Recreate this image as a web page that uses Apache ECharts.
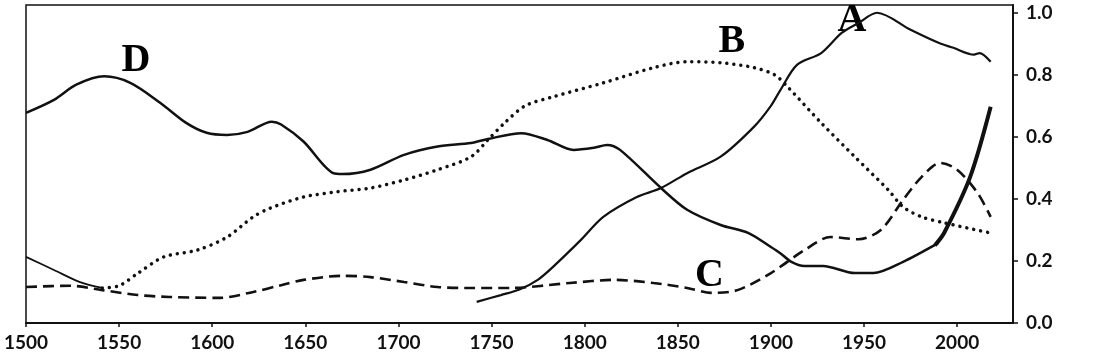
<!DOCTYPE html>
<html>
<head>
<meta charset="utf-8">
<script src="https://cdn.jsdelivr.net/npm/echarts@6/dist/echarts.min.js"></script>
<style>
html,body{margin:0;padding:0;background:#fff;}
#chart{width:1114px;height:358px;}
</style>
</head>
<body>
<div id="chart"></div>
<script>
// ---- data ----
const xTicks = [1500, 1550, 1600, 1650, 1700, 1750, 1800, 1850, 1900, 1950, 2000];
const yTicks = [0, 0.2, 0.4, 0.6, 0.8, 1.0];

const aYears = [1742, 1755, 1765, 1775, 1783, 1798, 1810, 1828, 1841, 1855, 1873, 1891, 1900, 1905, 1914, 1927, 1938, 1947, 1957, 1975, 1990, 1998, 2009, 2012, 2018];
const aVals  = [0.068, 0.09, 0.108, 0.14, 0.181, 0.268, 0.342, 0.406, 0.435, 0.483, 0.536, 0.633, 0.70, 0.75, 0.832, 0.87, 0.935, 0.967, 1.0, 0.945, 0.903, 0.887, 0.865, 0.87, 0.842];

const bEarlyYears = [1500, 1515, 1529, 1541];
const bEarlyVals  = [0.213, 0.171, 0.132, 0.113];

const bYears = [1541, 1550, 1560, 1574, 1592, 1608, 1622, 1631, 1649, 1667, 1685, 1703, 1721, 1739, 1748, 1757, 1768, 1783, 1810, 1837, 1855, 1873, 1891, 1902, 1909, 1927, 1945, 1963, 1971, 1981, 1993, 2018];
const bVals  = [0.113, 0.12, 0.16, 0.213, 0.235, 0.277, 0.342, 0.37, 0.406, 0.423, 0.435, 0.461, 0.494, 0.536, 0.59, 0.645, 0.70, 0.729, 0.774, 0.823, 0.842, 0.839, 0.823, 0.80, 0.761, 0.645, 0.536, 0.429, 0.374, 0.342, 0.323, 0.29];

const cYears = [1500, 1524, 1541, 1560, 1577, 1604, 1622, 1637, 1649, 1670, 1685, 1703, 1721, 1739, 1760, 1792, 1816, 1837, 1855, 1868, 1882, 1900, 1918, 1932, 1947, 1959, 1971, 1981, 1991, 2000, 2011, 2018];
const cVals  = [0.116, 0.12, 0.106, 0.09, 0.084, 0.081, 0.1, 0.122, 0.139, 0.152, 0.148, 0.132, 0.116, 0.113, 0.113, 0.129, 0.139, 0.129, 0.113, 0.097, 0.106, 0.161, 0.235, 0.277, 0.27, 0.3, 0.397, 0.471, 0.516, 0.494, 0.419, 0.342];

const dYears = [1500, 1515, 1527, 1542, 1556, 1572, 1586, 1597, 1608, 1619, 1632, 1637, 1649, 1665, 1670, 1685, 1703, 1721, 1739, 1748, 1766, 1780, 1794, 1805, 1812, 1819, 1841, 1855, 1873, 1888, 1900, 1905, 1911, 1918, 1928, 1945, 1955, 1971, 1990];
const dVals  = [0.677, 0.719, 0.768, 0.795, 0.774, 0.71, 0.645, 0.613, 0.606, 0.616, 0.649, 0.64, 0.585, 0.483, 0.48, 0.494, 0.542, 0.569, 0.58, 0.593, 0.612, 0.59, 0.558, 0.565, 0.574, 0.558, 0.435, 0.365, 0.316, 0.29, 0.245, 0.225, 0.197, 0.184, 0.184, 0.161, 0.161, 0.197, 0.258];

const dEndYears = [1988, 1993, 2007, 2018];
const dEndVals  = [0.25, 0.29, 0.471, 0.697];

const labelNames = ['D', 'B', 'A', 'C'];
const labelYears = [1559, 1879, 1943.5, 1867];
const labelVals  = [0.845, 0.906, 0.974, 0.152];

// ---- build ----
const pairs = (xs, ys) => xs.map((x, i) => [x, ys[i]]);
const INK = '#111';
const font = 'Lato, "DejaVu Sans", sans-serif';

const chart = echarts.init(document.getElementById('chart'));
chart.setOption({
  animation: false,
  backgroundColor: '#fff',
  grid: { left: 26, right: 101, top: 5, bottom: 35, show: true, borderColor: INK, borderWidth: 1.5, backgroundColor: 'transparent' },
  xAxis: {
    type: 'value', min: 1500, max: 2030, interval: 50,
    splitLine: { show: false },
    axisLine: { show: true, lineStyle: { color: INK, width: 2 } },
    axisTick: { show: true, inside: false, length: 4, lineStyle: { color: INK, width: 1.5 }, customValues: xTicks },
    axisLabel: { color: INK, fontFamily: font, fontSize: 19, fontWeight: 'bold', margin: 10, customValues: xTicks, formatter: v => String(v) }
  },
  yAxis: {
    type: 'value', position: 'right', min: 0, max: 1.025,
    splitLine: { show: false },
    axisLine: { show: true, lineStyle: { color: INK, width: 2 } },
    axisTick: { show: true, inside: false, length: 5, lineStyle: { color: INK, width: 1.5 }, customValues: yTicks },
    axisLabel: { color: INK, fontFamily: font, fontSize: 19, fontWeight: 'bold', margin: 13, customValues: yTicks, formatter: v => v.toFixed(1) }
  },
  series: [
    { name: 'A', type: 'line', data: pairs(aYears, aVals), smooth: 0.3, symbol: 'none', lineStyle: { color: INK, width: 2.2 } },
    { name: 'B-early', type: 'line', data: pairs(bEarlyYears, bEarlyVals), smooth: 0.3, symbol: 'none', lineStyle: { color: INK, width: 1.8 } },
    { name: 'B', type: 'line', data: pairs(bYears, bVals), smooth: 0.3, symbol: 'none', lineStyle: { color: INK, width: 3.5, type: [0.01, 7], cap: 'round' } },
    { name: 'C', type: 'line', data: pairs(cYears, cVals), smooth: 0.3, symbol: 'none', lineStyle: { color: INK, width: 2.6, type: [11, 6] } },
    { name: 'D', type: 'line', data: pairs(dYears, dVals), smooth: 0.3, symbol: 'none', lineStyle: { color: INK, width: 2.5 } },
    { name: 'D-end', type: 'line', data: pairs(dEndYears, dEndVals), smooth: 0.3, symbol: 'none', lineStyle: { color: INK, width: 4 } },
    { name: 'labels', type: 'scatter', symbolSize: 0, silent: true,
      itemStyle: { opacity: 1 },
      data: labelNames.map((n, i) => ({ name: n, value: [labelYears[i], labelVals[i]] })),
      label: { show: true, position: 'inside', opacity: 1, formatter: p => p.name, color: '#000', fontFamily: '"Liberation Serif", "DejaVu Serif", serif', fontWeight: 'bold', fontSize: 40 } }
  ]
});
</script>
</body>
</html>
